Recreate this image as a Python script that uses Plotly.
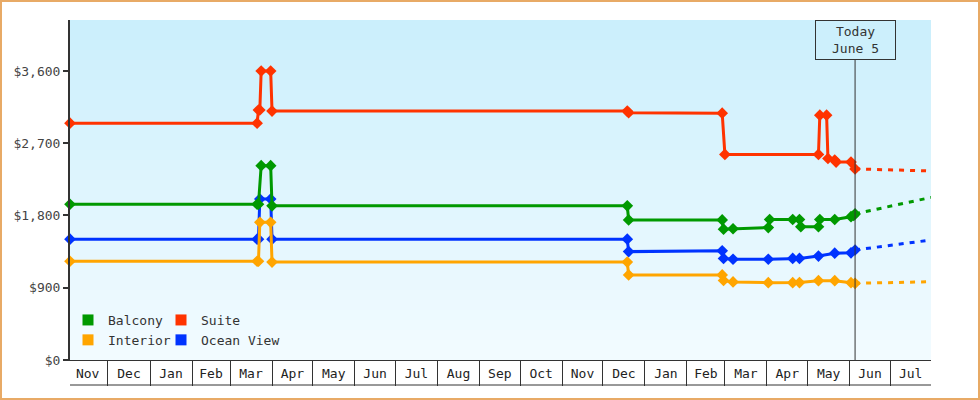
import plotly.graph_objects as go

# ---------------- data ----------------
balcony_dates = ["2021-11-03", "2022-03-21", "2022-03-22", "2022-03-24", "2022-03-31", "2022-04-01",
                 "2022-12-19", "2022-12-20", "2023-02-27", "2023-02-28", "2023-03-07", "2023-04-02",
                 "2023-04-03", "2023-04-20", "2023-04-25", "2023-04-26", "2023-05-09", "2023-05-10",
                 "2023-05-21", "2023-06-02", "2023-06-04", "2023-06-05"]
balcony_prices = [1940, 1940, 1940, 2420, 2420, 1920,
                  1920, 1745, 1745, 1630, 1635, 1650,
                  1750, 1750, 1750, 1660, 1660, 1750,
                  1750, 1785, 1800, 1820]

suite_dates = ["2021-11-03", "2022-03-21", "2022-03-22", "2022-03-23", "2022-03-24", "2022-03-31",
               "2022-04-01", "2022-12-19", "2022-12-20", "2023-02-27", "2023-03-01", "2023-05-09",
               "2023-05-10", "2023-05-15", "2023-05-16", "2023-05-21", "2023-05-22", "2023-06-02",
               "2023-06-05"]
suite_prices = [2950, 2950, 3114, 3114, 3600, 3600,
                3100, 3100, 3080, 3075, 2560, 2560,
                3050, 3050, 2510, 2490, 2465, 2465,
                2380]

interior_dates = ["2021-11-03", "2022-03-21", "2022-03-22", "2022-03-23", "2022-03-31", "2022-04-01",
                  "2022-12-19", "2022-12-20", "2023-02-27", "2023-02-28", "2023-03-07", "2023-04-02",
                  "2023-04-20", "2023-04-25", "2023-05-09", "2023-05-21", "2023-06-02", "2023-06-05"]
interior_prices = [1230, 1230, 1230, 1715, 1715, 1220,
                   1220, 1060, 1060, 990, 972, 963,
                   963, 965, 988, 988, 963, 955]

ocean_dates = ["2021-11-03", "2022-03-21", "2022-03-22", "2022-03-23", "2022-03-31", "2022-04-01",
               "2022-12-19", "2022-12-20", "2023-02-27", "2023-02-28", "2023-03-07", "2023-04-02",
               "2023-04-20", "2023-04-25", "2023-05-09", "2023-05-21", "2023-06-02", "2023-06-05"]
ocean_prices = [1505, 1505, 1505, 2005, 2005, 1505,
                1505, 1350, 1360, 1265, 1255, 1255,
                1265, 1265, 1295, 1330, 1335, 1370]

forecast_dates = ["2023-06-05", "2023-07-31"]
balcony_forecast = [1820, 2025]
suite_forecast = [2380, 2355]
interior_forecast = [955, 975]
ocean_forecast = [1370, 1495]

today = "2023-06-05"
today_label = "Today<br>June 5"
x_range = ["2021-11-03", "2023-07-31"]
y_max = 4235

# ---------------- styling ----------------
FONT = "DejaVu Sans Mono"
colors = {"Balcony": "#009900", "Suite": "#ff3300", "Interior": "#ffa500", "Ocean View": "#0033ff"}

series = [
    ("Balcony", balcony_dates, balcony_prices, balcony_forecast),
    ("Suite", suite_dates, suite_prices, suite_forecast),
    ("Interior", interior_dates, interior_prices, interior_forecast),
    ("Ocean View", ocean_dates, ocean_prices, ocean_forecast),
]

fig = go.Figure()

# forecasts first (under)
for name, d, p, fc in series:
    fig.add_trace(go.Scatter(
        x=forecast_dates, y=fc, mode="lines",
        line=dict(color=colors[name], width=3, dash="5px,6px"),
        showlegend=False, hoverinfo="skip"))

order = ["Ocean View", "Interior", "Balcony", "Suite"]
for nm in order:
    for name, d, p, fc in series:
        if name != nm:
            continue
        fig.add_trace(go.Scatter(
            x=d, y=p, mode="lines+markers", name=name,
            line=dict(color=colors[name], width=3),
            marker=dict(symbol="diamond", size=9, color=colors[name]),
            cliponaxis=False, showlegend=False))

# legend entries (two columns)
legend_map = {"Balcony": "legend", "Interior": "legend", "Suite": "legend2", "Ocean View": "legend2"}
for name in ["Balcony", "Interior", "Suite", "Ocean View"]:
    fig.add_trace(go.Scatter(
        x=[None], y=[None], mode="markers", name=name,
        marker=dict(symbol="square", size=11, color=colors[name]),
        legend=legend_map[name], showlegend=True))

# background gradient stripes
shapes = []
n = 34
top = (203, 239, 252)
bot = (242, 251, 255)
for i in range(n):
    t = i / (n - 1)
    c = tuple(round(top[k] + (bot[k] - top[k]) * t) for k in range(3))
    shapes.append(dict(type="rect", xref="x domain", yref="y domain",
                       x0=0, x1=1, y0=1 - (i + 1) / n, y1=1 - i / n,
                       fillcolor="rgb(%d,%d,%d)" % c, line=dict(width=0), layer="below"))

W, H = 980, 400
ML, MR, MT, MB = 70, 49, 20, 40
PW, PH = W - ML - MR, H - MT - MB

# bottom line of month table
shapes.append(dict(type="line", xref="x domain", yref="y domain", x0=0, x1=1,
                   y0=-25 / PH, y1=-25 / PH, line=dict(color="#333", width=1)))
# today line
shapes.append(dict(type="line", xref="x", yref="y domain", x0=today, x1=today,
                   y0=0, y1=(PH - 40) / PH, line=dict(color="#333", width=1)))
# outer border
shapes.append(dict(type="rect", xref="paper", yref="paper",
                   x0=(-ML + 1) / PW, x1=(PW + MR - 1) / PW,
                   y0=(-MB + 1) / PH, y1=(PH + MT - 1) / PH,
                   line=dict(color="#e8aa66", width=2), fillcolor="rgba(0,0,0,0)", layer="above"))

legend_top = (360 - 305) / PH
fig.update_layout(
    width=W, height=H,
    margin=dict(l=ML, r=MR, t=MT, b=MB),
    paper_bgcolor="white", plot_bgcolor="#e0f5fd",
    font=dict(family=FONT, size=13, color="#333"),
    shapes=shapes,
    legend=dict(x=(68 - ML) / PW, xanchor="left", y=legend_top, yanchor="top",
                bgcolor="rgba(0,0,0,0)", font=dict(family=FONT, size=13, color="#333"),
                tracegroupgap=0, itemsizing="trace"),
    legend2=dict(x=(161 - ML) / PW, xanchor="left", y=legend_top, yanchor="top",
                 bgcolor="rgba(0,0,0,0)", font=dict(family=FONT, size=13, color="#333"),
                 tracegroupgap=0, itemsizing="trace"),
    annotations=[dict(x=today, xref="x", y=1, yref="y domain", yanchor="top",
                      text=today_label, showarrow=False,
                      font=dict(family=FONT, size=13, color="#333"),
                      bordercolor="#333", borderwidth=1, borderpad=2,
                      width=75, height=34, bgcolor="rgba(0,0,0,0)")],
    hovermode=False,
)

fig.update_xaxes(
    type="date", range=x_range, dtick="M1", tick0="2021-11-01", tickformat="%b",
    ticklabelmode="period", ticks="outside", ticklen=25, tickwidth=1, tickcolor="#333",
    ticklabelstandoff=-24,
    showline=True, linecolor="#333", linewidth=1, showgrid=False, zeroline=False,
    tickfont=dict(family=FONT, size=13, color="#222"),
)
fig.update_yaxes(
    range=[0, y_max], dtick=900, tick0=0, tickprefix="$", tickformat=",d",
    ticks="outside", ticklen=5, tickwidth=2, tickcolor="#333",
    showline=True, linecolor="#333", linewidth=2, showgrid=False, zeroline=False,
    tickfont=dict(family=FONT, size=13, color="#444"),
)

fig.write_html("out.html", config={"displayModeBar": False},
               post_script="document.body.style.margin='0';document.body.style.padding='0';")
